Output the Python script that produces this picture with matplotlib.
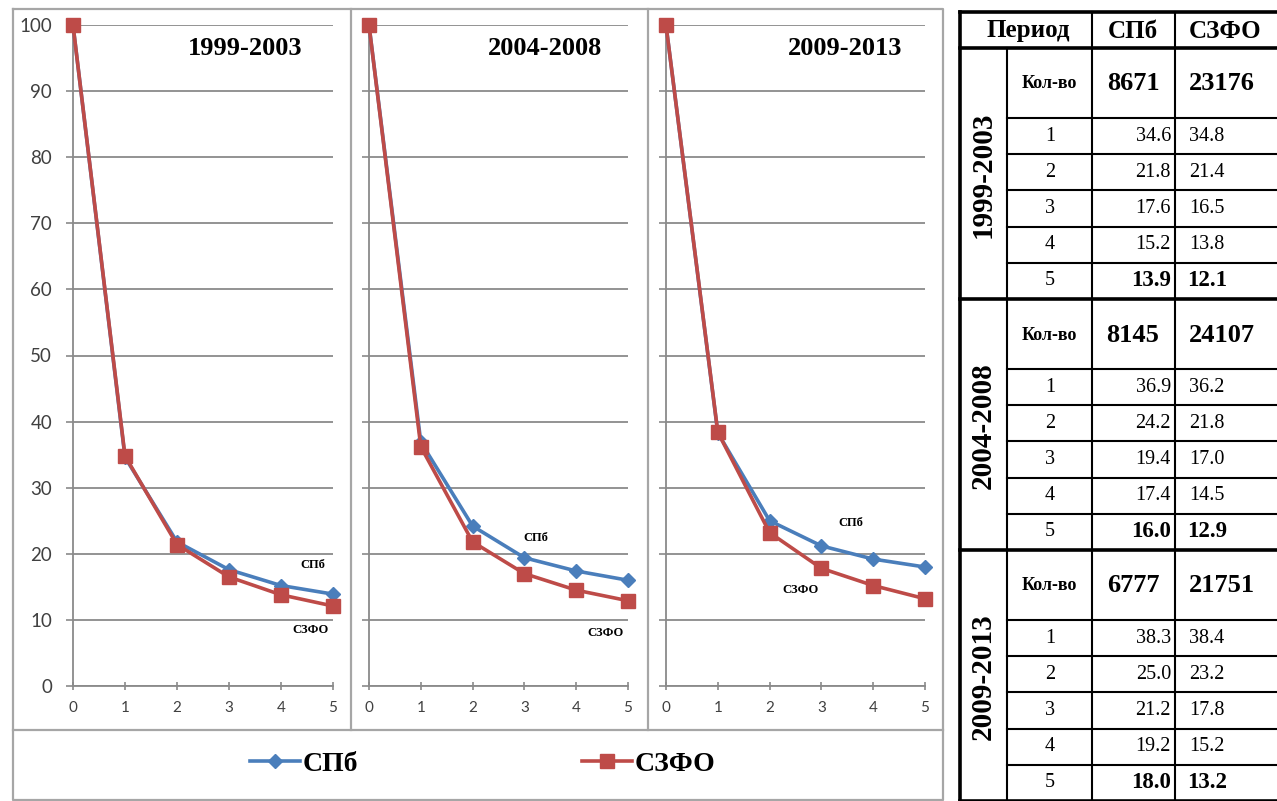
import matplotlib
matplotlib.use("Agg")
import matplotlib.pyplot as plt
from matplotlib.lines import Line2D

W, H = 1277, 801

# share of the cohort remaining, by year (0..5)
years = [0, 1, 2, 3, 4, 5]
periods = ["1999-2003", "2004-2008", "2009-2013"]
spb = [
    [100, 34.6, 21.8, 17.6, 15.2, 13.9],
    [100, 36.9, 24.2, 19.4, 17.4, 16.0],
    [100, 38.3, 25.0, 21.2, 19.2, 18.0],
]
szfo = [
    [100, 34.8, 21.4, 16.5, 13.8, 12.1],
    [100, 36.2, 21.8, 17.0, 14.5, 12.9],
    [100, 38.4, 23.2, 17.8, 15.2, 13.2],
]
count_spb = [8671, 8145, 6777]
count_szfo = [23176, 24107, 21751]

# label spots for the series names inside each panel (data coords)
spb_label_xy = [(4.62, 18.3), (3.22, 22.4), (3.57, 24.7)]
szfo_label_xy = [(4.56, 8.5), (4.56, 8.0), (2.59, 14.5)]
title_x = [3.31, 3.40, 3.46]

BLUE = "#4A7EBB"
RED = "#BE4B48"
GRID = "#8a8a8a"
SERIF = "Liberation Serif"
SANS = "Lato"

fig = plt.figure(figsize=(W / 100, H / 100), dpi=100)

# background layer in pixel coordinates: frames and the table
bg = fig.add_axes([0, 0, 1, 1], zorder=0)
bg.set_xlim(0, W)
bg.set_ylim(H, 0)
bg.axis("off")


def px_axes(x0, y0, x1, y1):
    return fig.add_axes([x0 / W, 1 - y1 / H, (x1 - x0) / W, (y1 - y0) / H], zorder=2)


# chart frame
fc = "#a6a6a6"
bg.plot([13, 943, 943, 13, 13], [9, 9, 800, 800, 9], color=fc, lw=1.6)
bg.plot([13, 943], [730, 730], color=fc, lw=1.6)
for sx in (351, 648):
    bg.plot([sx, sx], [9, 730], color=fc, lw=1.6)

panels = [(73, 333), (369, 628), (666, 925)]
for k, (x0, x1) in enumerate(panels):
    ax = px_axes(x0, 25, x1, 686)
    ax.set_facecolor("none")
    ax.set_xlim(0, 5)
    ax.set_ylim(0, 100)
    ax.set_xticks(years)
    ax.set_yticks(range(0, 101, 10))
    ax.grid(axis="y", color=GRID, lw=1.3)
    ax.set_axisbelow(True)
    for side in ("top", "right"):
        ax.spines[side].set_visible(False)
    for side in ("left", "bottom"):
        ax.spines[side].set_color(GRID)
        ax.spines[side].set_linewidth(1.3)
    ax.tick_params(axis="y", direction="out", length=5, width=1.2, color=GRID,
                   pad=10, labelsize=13.5, labelcolor="#404040")
    ax.tick_params(axis="x", direction="inout", length=6, width=1.2, color=GRID,
                   pad=8, labelsize=11, labelcolor="#404040")
    for lab in ax.get_xticklabels() + ax.get_yticklabels():
        lab.set_fontfamily(SANS)
    if k > 0:
        ax.tick_params(axis="y", labelleft=False)

    ax.plot(years, spb[k], color=BLUE, lw=2.6, marker="D", ms=7.5,
            clip_on=False, zorder=3)
    ax.plot(years, szfo[k], color=RED, lw=2.6, marker="s", ms=9.5,
            clip_on=False, zorder=4)

    ax.text(title_x[k], 96.4, periods[k], ha="center", va="center",
            fontsize=19, fontweight="bold", family=SERIF)
    ax.text(*spb_label_xy[k], "СПб", ha="center", va="center",
            fontsize=9, fontweight="bold", family=SERIF)
    ax.text(*szfo_label_xy[k], "СЗФО", ha="center", va="center",
            fontsize=9, fontweight="bold", family=SERIF)

# legend under the panels
handles = [
    Line2D([], [], color=BLUE, lw=2.6, marker="D", ms=7.5),
    Line2D([], [], color=RED, lw=2.6, marker="s", ms=9.5),
]
fig.legend(handles, ["СПб", "СЗФО"], loc="center", ncol=2,
           bbox_to_anchor=(483 / W, 1 - 764 / H), frameon=False,
           prop={"family": SERIF, "weight": "bold", "size": 20},
           handlelength=1.8, handletextpad=0.1, columnspacing=8.05)

# table on the right
thick, thin = 2.6, 1.5
xl, xc1, xc2, xc3, xr = 960, 1007, 1092, 1175, 1300
top, head_bot = 12, 48
block_h, kol_h, row_h = 251, 70, 36.2

bg.plot([xl, xr], [top, top], color="black", lw=thick)
bg.plot([xl, xr], [head_bot, head_bot], color="black", lw=thick)
bg.plot([xl, xl], [top, H + 5], color="black", lw=thick)
bg.plot([xc1, xc1], [head_bot, H + 5], color="black", lw=thin)
for vx in (xc2, xc3):
    bg.plot([vx, vx], [top, H + 5], color="black", lw=thin)

bg.text(1028, 31, "Период", ha="center", va="center", fontsize=18,
        fontweight="bold", family=SERIF)
bg.text(1133, 31, "СПб", ha="center", va="center", fontsize=18,
        fontweight="bold", family=SERIF)
bg.text(1225, 31, "СЗФО", ha="center", va="center", fontsize=18,
        fontweight="bold", family=SERIF)

for b in range(3):
    s = head_bot + b * block_h
    bg.plot([xl, xr], [s + block_h, s + block_h], color="black", lw=thick)
    bg.plot([xc1, xr], [s + kol_h, s + kol_h], color="black", lw=thin)
    for i in range(1, 5):
        yy = s + kol_h + i * row_h
        bg.plot([xc1, xr], [yy, yy], color="black", lw=thin)

    bg.text(983, s + 127, periods[b], rotation=90, ha="center", va="center",
            fontsize=21, fontweight="bold", family=SERIF)
    bg.text(1049, s + 36, "Кол-во", ha="center", va="center", fontsize=13,
            fontweight="bold", family=SERIF)
    bg.text(1133, s + 36, str(count_spb[b]), ha="center", va="center",
            fontsize=19, fontweight="bold", family=SERIF)
    bg.text(1222, s + 36, str(count_szfo[b]), ha="center", va="center",
            fontsize=19, fontweight="bold", family=SERIF)

    for i in range(1, 6):
        yc = s + kol_h + (i - 0.5) * row_h
        last = i == 5
        fw = "bold" if last else "normal"
        fs = 16.5 if last else 14.5
        bg.text(1050, yc, str(years[i]), ha="center", va="center",
                fontsize=14.5, family=SERIF)
        bg.text(1171, yc, f"{spb[b][i]:.1f}", ha="right", va="center",
                fontsize=fs, fontweight=fw, family=SERIF)
        bg.text(1207, yc, f"{szfo[b][i]:.1f}", ha="center", va="center",
                fontsize=fs, fontweight=fw, family=SERIF)

fig.savefig("out.png", dpi=100, facecolor="white")
